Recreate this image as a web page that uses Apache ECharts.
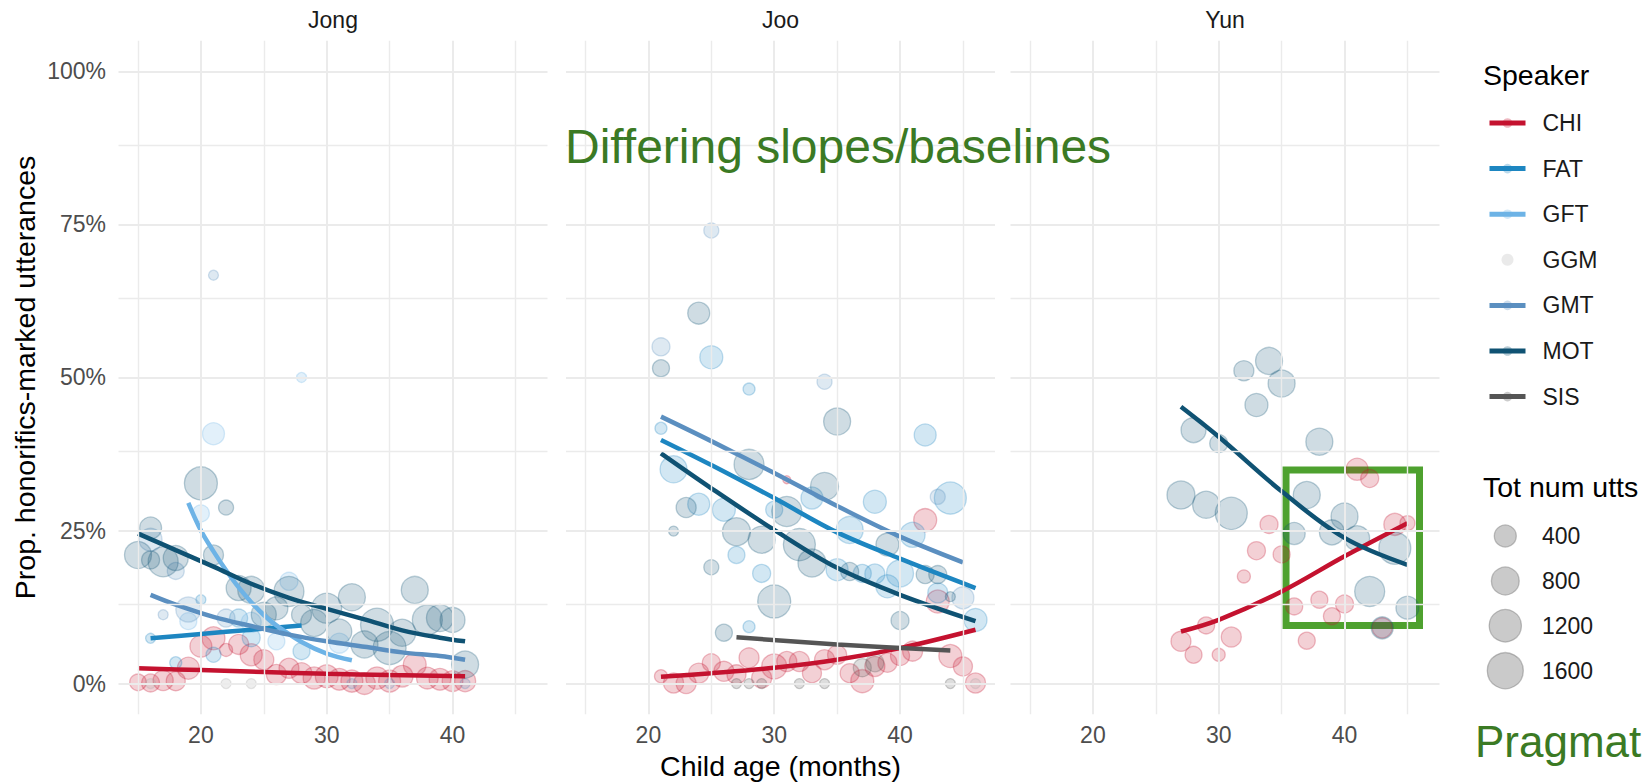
<!DOCTYPE html>
<html>
<head>
<meta charset="utf-8">
<title>Honorifics by child age</title>
<script src="https://cdn.jsdelivr.net/npm/echarts@6/dist/echarts.min.js"></script>
<style>
html, body { margin: 0; padding: 0; background: #fff; }
#chart { width: 1644px; height: 782px; }
</style>
</head>
<body>
<div id="chart"></div>
<script>
// ---- data: [age in months, proportion honorific-marked, total utterances] ----
var jongCHI = [[15,0.002,150],[16,0.001,200],[17,0.005,300],[18,0.004,250],[19,0.025,400],[20,0.061,400],[21,0.074,459],[22,0.055,51],[23,0.064,294],[24,0.047,400],[25,0.039,294],[26,0.015,294],[27,0.025,294],[28,0.017,330],[29,0.009,400],[30,0.012,450],[31,0.007,380],[32,0.004,400],[33,0.000,380],[34,0.009,420],[35,0.004,400],[36,0.012,380],[37,0.031,450],[38,0.009,380],[39,0.007,380],[40,0.004,330],[41,0.004,350]];
var jongFAT = [[16,0.074,8],[18,0.034,33],[20,0.137,8],[21,0.047,100],[23,0.107,204],[24,0.075,204],[28,0.053,165]];
var jongGFT = [[19,0.102,165],[20,0.278,165],[21,0.408,400],[24,0.100,294],[26,0.069,165],[27,0.167,204],[28,0.500,8],[31,0.066,294]];
var jongGGM = [[16,0,8],[22,0,8],[24,0,8]];
var jongGMT = [[16,0.235,459],[17,0.1125,8],[18,0.184,165],[19,0.121,590],[21,0.667,8],[22,0.107,204],[32,0,8],[35,0,8],[41,0,8]];
var jongMOT = [[15,0.21,737],[16,0.254,400],[16,0.202,204],[17,0.199,988],[18,0.205,590],[20,0.327,1276],[21,0.21,294],[22,0.2875,100],[23,0.156,590],[24,0.153,737],[25,0.1125,590],[26,0.123,459],[27,0.1505,988],[28,0.1125,294],[29,0.099,737],[30,0.123,988],[31,0.085,590],[32,0.141,737],[33,0.064,737],[34,0.096,1276],[35,0.058,1276],[36,0.083,737],[37,0.153,737],[38,0.104,988],[39,0.107,737],[40,0.104,590],[41,0.031,737]];

var jooCHI = [[21,0.012,51],[22,0.001,294],[23,0.000,294],[24,0.017,294],[25,0.034,204],[26,0.020,294],[27,0.015,250],[28,0.042,294],[29,0.009,294],[30,0.028,590],[31,0.036,294],[31,0.333,0],[32,0.036,294],[33,0.017,250],[34,0.039,294],[35,0.047,250],[36,0.017,250],[37,0.004,459],[38,0.028,294],[39,0.034,250],[40,0.045,250],[41,0.053,294],[42,0.267,459],[43,0.134,459],[44,0.045,459],[45,0.028,250],[46,0.001,294]];
var jooFAT = [[21,0.417,33],[22,0.350,737],[24,0.293,400],[25,0.533,459],[26,0.284,459],[27,0.210,165],[28,0.481,33],[28,0.093,33],[29,0.180,204],[30,0.284,165],[33,0.303,400],[35,0.186,400],[36,0.251,737],[37,0.180,204],[38,0.297,459],[38,0.179,294],[39,0.159,459],[40,0.180,737],[41,0.243,590],[42,0.406,400],[43,0.148,294],[44,0.303,1176],[46,0.104,459]];
var jooGGM = [[46,0,8]];
var jooGMT = [[21,0.550,204],[25,0.740,100],[34,0.493,100],[43,0.305,100],[45,0.140,400]];
var jooMOT = [[21,0.515,165],[22,0.249,8],[23,0.2875,294],[24,0.605,400],[25,0.190,100],[26,0.083,165],[27,0.248,816],[28,0.358,988],[29,0.235,737],[30,0.134,1276],[31,0.281,988],[32,0.227,1176],[33,0.197,816],[34,0.322,816],[35,0.428,737],[36,0.183,204],[39,0.227,459],[40,0.103,204],[42,0.178,204],[43,0.178,204],[44,0.142,8]];
var jooSIS = [[27,0,8],[28,0,8],[29,0,8],[32,0,8],[34,0,8],[37,0.026,204],[38,0.034,204],[44,0,8]];

var yunCHI = [[27,0.069,294],[28,0.047,165],[29,0.095,165],[30,0.047,51],[31,0.076,294],[32,0.175,51],[33,0.217,204],[34,0.260,204],[35,0.211,165],[36,0.126,165],[37,0.070,165],[38,0.137,165],[39,0.110,165],[40,0.130,204],[41,0.350,400],[42,0.335,204],[43,0.091,294],[44,0.260,400],[45,0.262,100]];
var yunMOT = [[27,0.308,816],[28,0.414,590],[29,0.292,737],[30,0.392,204],[31,0.278,1176],[32,0.511,294],[33,0.455,459],[34,0.527,737],[35,0.490,737],[36,0.245,400],[37,0.308,737],[38,0.395,737],[39,0.247,590],[40,0.273,737],[41,0.2375,590],[42,0.1505,988],[43,0.091,400],[44,0.221,1176],[45,0.124,459]];

// ---- fitted curves: [age, fitted proportion] ----
var jongCHIfit = [[15,0.025],[20,0.022],[25,0.019],[30,0.016],[35,0.014],[41,0.012]];
var jongFATfit = [[16,0.074],[20,0.081],[24,0.088],[28,0.095]];
var jongGFTfit = [[19,0.295],[20,0.250],[21,0.216],[22,0.185],[23,0.157],[24,0.133],[25,0.112],[26,0.095],[28,0.068],[30,0.049],[32,0.038]];
var jongGMTfit = [[16,0.145],[18,0.129],[21,0.109],[24,0.094],[27,0.080],[30,0.069],[33,0.060],[36,0.051],[39,0.045],[41,0.039]];
var jongMOTfit = [[15,0.245],[18,0.218],[21,0.191],[24,0.163],[27,0.140],[30,0.122],[33,0.105],[36,0.087],[39,0.075],[41,0.069]];
var jooCHIfit = [[21,0.011],[25,0.017],[30,0.026],[35,0.039],[40,0.058],[46,0.088]];
var jooFATfit = [[21,0.398],[25,0.357],[30,0.303],[35,0.247],[40,0.204],[46,0.156]];
var jooGMTfit = [[21,0.436],[25,0.396],[30,0.344],[35,0.290],[40,0.240],[45,0.198]];
var jooMOTfit = [[21,0.376],[25,0.319],[30,0.251],[35,0.189],[40,0.145],[46,0.102]];
var jooSISfit = [[27,0.0755],[35,0.064],[44,0.054]];
var yunCHIfit = [[27,0.085],[30,0.104],[35,0.1505],[40,0.208],[45,0.262]];
var yunMOTfit = [[27,0.452],[30,0.403],[35,0.314],[40,0.238],[45,0.194]];

// ---- axes, ticks, legends ----
var panelNames = ['Jong', 'Joo', 'Yun'];
var speakers = ['CHI', 'FAT', 'GFT', 'GGM', 'GMT', 'MOT', 'SIS'];
var xRange = [13.45, 47.55];
var yRange = [-0.05, 1.05];
var xMajor = [20, 30, 40];
var xMinor = [15, 25, 35, 45];
var yMajor = [0, 0.25, 0.5, 0.75, 1];
var yMinor = [0.125, 0.375, 0.625, 0.875];
var sizeBreaks = [400, 800, 1200, 1600];
var boxYun = [35.35, 0.095, 45.96, 0.349]; // highlighted region in Yun panel

var speakerColors = {
    CHI: '#c4122f', FAT: '#1d86c1', GFT: '#6db3e6', GGM: '#a8a8a8',
    GMT: '#5b8fc0', MOT: '#0f5273', SIS: '#555555'
};

var panels = [
    { points: { CHI: jongCHI, FAT: jongFAT, GFT: jongGFT, GGM: jongGGM, GMT: jongGMT, MOT: jongMOT },
      fits: { CHI: jongCHIfit, FAT: jongFATfit, GFT: jongGFTfit, GMT: jongGMTfit, MOT: jongMOTfit } },
    { points: { CHI: jooCHI, FAT: jooFAT, GGM: jooGGM, GMT: jooGMT, MOT: jooMOT, SIS: jooSIS },
      fits: { CHI: jooCHIfit, FAT: jooFATfit, GMT: jooGMTfit, MOT: jooMOTfit, SIS: jooSISfit } },
    { points: { CHI: yunCHI, MOT: yunMOT },
      fits: { CHI: yunCHIfit, MOT: yunMOTfit } }
];

var FONT = '"Liberation Sans", Arial, Helvetica, sans-serif';
var gridLefts = [118.5, 566, 1010.5];
var gridWidth = 429;
var gridTop = 40.7;
var gridHeight = 673.5;

function sizeOf(n) {
    // area-style size scale, fitted to the size legend
    return 8 + 0.7 * Math.sqrt(n);
}
function rgba(hex, a) {
    var r = parseInt(hex.slice(1, 3), 16), g = parseInt(hex.slice(3, 5), 16), b = parseInt(hex.slice(5, 7), 16);
    return 'rgba(' + r + ',' + g + ',' + b + ',' + a + ')';
}

var chart = echarts.init(document.getElementById('chart'), null, { renderer: 'svg' });

var grids = [], xAxes = [], yAxes = [], series = [];

panelNames.forEach(function (name, i) {
    grids.push({ left: gridLefts[i], top: gridTop, width: gridWidth, height: gridHeight, containLabel: false, outerBoundsMode: 'none' });
    xAxes.push({
        type: 'value', gridIndex: i, min: xRange[0], max: xRange[1],
        minInterval: 10, maxInterval: 10,
        axisLine: { show: false }, axisTick: { show: false }, splitLine: { show: false },
        axisLabel: {
            customValues: xMajor, margin: 9, fontSize: 23, color: '#4d4d4d', fontFamily: FONT,
            formatter: function (v) { return xMajor.indexOf(Math.round(v * 1000) / 1000) >= 0 ? String(v) : ''; }
        },
        name: i === 1 ? 'Child age (months)' : '',
        nameLocation: 'middle', nameGap: 37,
        nameTextStyle: { fontSize: 28.5, color: '#000', fontFamily: FONT }
    });
    yAxes.push({
        type: 'value', gridIndex: i, min: yRange[0], max: yRange[1],
        minInterval: 0.25, maxInterval: 0.25,
        axisLine: { show: false }, axisTick: { show: false }, splitLine: { show: false },
        axisLabel: {
            show: i === 0, customValues: yMajor, margin: 12.5, fontSize: 23, color: '#4d4d4d', fontFamily: FONT,
            formatter: function (v) {
                var k = v * 4;
                if (Math.abs(k - Math.round(k)) > 1e-6) return '';
                return Math.round(v * 100) + '%';
            }
        },
        name: i === 0 ? 'Prop. honorifics-marked utterances' : '',
        nameLocation: 'middle', nameGap: 79,
        nameTextStyle: { fontSize: 28.5, color: '#000', fontFamily: FONT }
    });

    // panel gridlines
    var lines = [];
    xMajor.forEach(function (v) { lines.push({ xAxis: v, lineStyle: { width: 2 } }); });
    xMinor.forEach(function (v) { lines.push({ xAxis: v, lineStyle: { width: 1.4 } }); });
    yMajor.forEach(function (v) { lines.push({ yAxis: v, lineStyle: { width: 2 } }); });
    yMinor.forEach(function (v) { lines.push({ yAxis: v, lineStyle: { width: 1.4 } }); });
    series.push({
        type: 'line', name: 'grid' + i, xAxisIndex: i, yAxisIndex: i, data: [], silent: true, z: 1,
        markLine: {
            silent: true, symbol: ['none', 'none'], label: { show: false }, animation: false,
            emphasis: { disabled: true },
            lineStyle: { color: '#ebebeb', type: 'solid' },
            data: lines
        }
    });
});

// fitted lines first, so the legend icons come from them
panelNames.forEach(function (name, i) {
    speakers.forEach(function (s) {
        var d = panels[i].fits[s];
        if (!d) return;
        series.push({
            type: 'line', name: s, xAxisIndex: i, yAxisIndex: i, data: d,
            smooth: 0.35, showSymbol: false, symbol: 'circle', silent: true,
            lineStyle: { color: speakerColors[s], width: 4.5 },
            itemStyle: { color: speakerColors[s] },
            z: 4
        });
    });
});

panelNames.forEach(function (name, i) {
    speakers.forEach(function (s) {
        var d = panels[i].points[s];
        if (!d) return;
        series.push({
            type: 'scatter', name: s, xAxisIndex: i, yAxisIndex: i, data: d,
            symbolSize: function (v) { return sizeOf(v[2]); },
            itemStyle: { color: rgba(speakerColors[s], 0.25), borderColor: rgba(speakerColors[s], 0.35), borderWidth: 1.3 },
            silent: true, z: 3
        });
    });
});

// highlight box on the Yun panel
series.push({
    type: 'line', name: 'box', xAxisIndex: 2, yAxisIndex: 2, data: [], silent: true, z: 6,
    markArea: {
        silent: true,
        itemStyle: { color: 'rgba(0,0,0,0)', borderColor: '#4ea12f', borderWidth: 7 },
        emphasis: { disabled: true },
        data: [[{ coord: [boxYun[0], boxYun[3]] }, { coord: [boxYun[2], boxYun[1]] }]]
    }
});

var graphics = [];
panelNames.forEach(function (name, i) {
    graphics.push({ type: 'text', x: gridLefts[i] + gridWidth / 2, y: 20, silent: true,
        style: { text: name, font: '23px ' + FONT, fill: '#1a1a1a', align: 'center', verticalAlign: 'middle' } });
});
graphics.push({ type: 'text', x: 1483, y: 75, silent: true,
    style: { text: 'Speaker', font: '28.5px ' + FONT, fill: '#000', align: 'left', verticalAlign: 'middle' } });
graphics.push({ type: 'text', x: 1483, y: 487, silent: true,
    style: { text: 'Tot num utts', font: '28.5px ' + FONT, fill: '#000', align: 'left', verticalAlign: 'middle' } });
var sizeRowY = [536, 581, 625.7, 670.7];
sizeBreaks.forEach(function (n, k) {
    graphics.push({ type: 'circle', silent: true, shape: { cx: 1505.3, cy: sizeRowY[k], r: sizeOf(n) / 2 },
        style: { fill: 'rgba(150,150,150,0.5)', stroke: 'rgba(120,120,120,0.45)', lineWidth: 1.3 } });
    graphics.push({ type: 'text', x: 1542, y: sizeRowY[k], silent: true,
        style: { text: String(n), font: '23px ' + FONT, fill: '#1a1a1a', align: 'left', verticalAlign: 'middle' } });
});
graphics.push({ type: 'text', x: 565, y: 146, silent: true, z: 50,
    style: { text: 'Differing slopes/baselines', font: '48px ' + FONT, fill: '#3b7a24', align: 'left', verticalAlign: 'middle' } });
graphics.push({ type: 'text', x: 1475, y: 741, silent: true,
    style: { text: 'Pragmat', font: '44px ' + FONT, fill: '#3b7a24', align: 'left', verticalAlign: 'middle' } });

var option = {
    animation: false,
    backgroundColor: '#fff',
    textStyle: { fontFamily: FONT },
    grid: grids,
    xAxis: xAxes,
    yAxis: yAxes,
    legend: {
        data: speakers.map(function (s) {
            if (s === 'GGM') {
                return { name: s, icon: 'circle', itemStyle: { color: 'rgba(190,190,190,0.4)', borderWidth: 0 } };
            }
            return { name: s, itemStyle: { color: rgba(speakerColors[s], 0.3), borderWidth: 0 }, lineStyle: { width: 5 } };
        }),
        orient: 'vertical', left: 1482, top: 106.5,
        itemWidth: 36, itemHeight: 12, itemGap: 22.6,
        selectedMode: false,
        textStyle: { fontSize: 23, color: '#1a1a1a', fontFamily: FONT, padding: [0, 0, 0, 12] }
    },
    graphic: graphics,
    series: series
};

chart.setOption(option);
</script>
</body>
</html>
